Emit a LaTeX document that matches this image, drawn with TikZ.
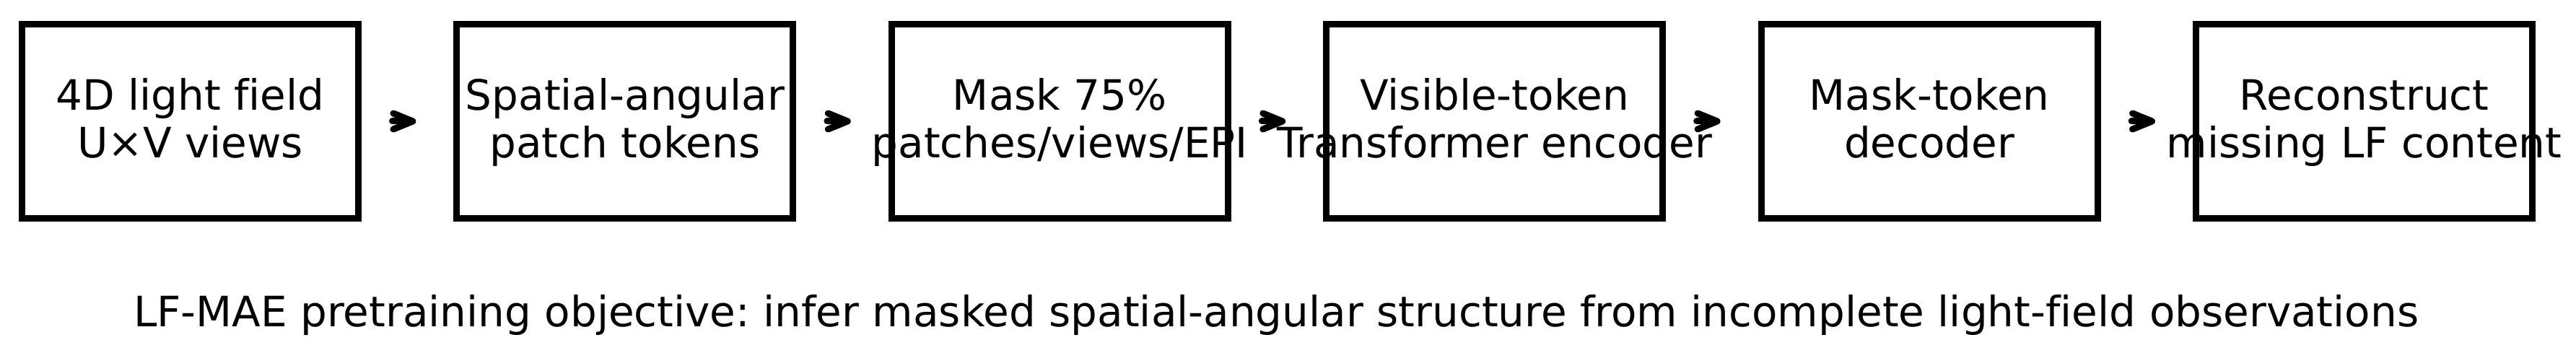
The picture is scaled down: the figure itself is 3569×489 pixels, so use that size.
\documentclass[tikz,border=0pt]{standalone}
\usepackage{fontspec}
\setmainfont{DejaVu Sans}[Ligatures=NoCommon]
\usetikzlibrary{arrows.meta,positioning}
\frenchspacing

\begin{document}
\begin{tikzpicture}[x=0.2pt,y=0.2pt,
	stage/.style={draw, line width=1.8pt, minimum width=93.2pt, minimum height=53.8pt, inner sep=0pt},
	stagetext/.style={align=center, inner sep=0pt, text height=20.4pt, text depth=0pt,
		font=\fontsize{11.6}{13.2}\selectfont},
	flow/.style={line width=1.8pt, line cap=round, -{Straight Barb[length=5.4pt,width=4.4pt,round]},
		shorten <=8.5pt, shorten >=10.4pt}]
	
	% ---- (A) parameters ----
	\def\xfirst{263.5}  % centre of the first stage
	\def\pitch{602.4}   % distance between stage centres
	\def\yrow{-168}     % centre line of the row
	
	% fixed page size
	\useasboundingbox (0,0) rectangle (3569,-489);
	
	% ---- (B) stages ----
	\foreach \name/\txt [count=\i from 0] in {%
		light/{4D light field\\U×V views},
		patch/{Spatial-angular\\patch tokens},
		mask/{Mask 75\%\\patches/views/EPI},
		enc/{Visible-token\\Transformer encoder},
		dec/{Mask-token\\decoder},
		recon/{Reconstruct\\missing LF content}}{
		\node[stage] (\name) at ({\xfirst+\i*\pitch},\yrow) {};
		\node[stagetext] (\name-t) at (\name.center) {\txt};
	}
	
	% ---- (C) arrows ----
	\draw[flow] (light) -- (patch);
	\draw[flow] (patch) -- (mask);
	\draw[flow] (mask) -- (enc);
	\draw[flow] (enc) -- (dec);
	\draw[flow] (dec) -- (recon);
	
	% ---- (D) caption ----
	\node[anchor=base, inner sep=0pt, font=\fontsize{11.6}{13.2}\selectfont] (caption) at (1768,-453)
	{LF-MAE pretraining objective: infer masked spatial-angular structure from incomplete light-field observations};
	
\end{tikzpicture}
\end{document}
